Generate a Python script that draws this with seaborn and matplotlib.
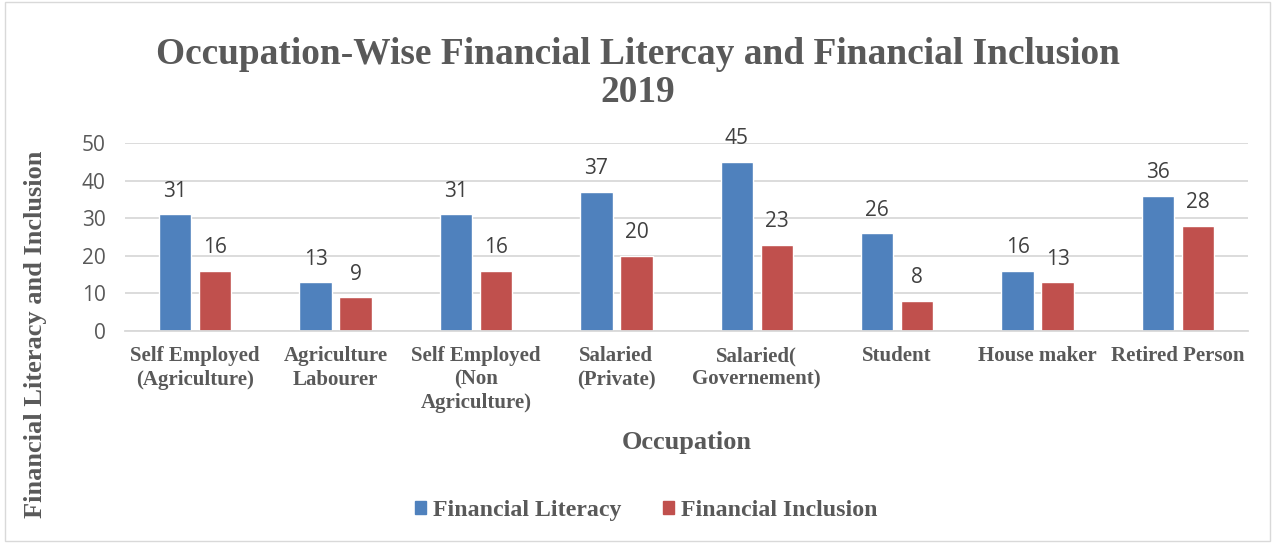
import matplotlib
matplotlib.use("Agg")
import matplotlib.pyplot as plt
import seaborn as sns
import pandas as pd
from matplotlib.patches import Rectangle

categories = ["Self Employed\n(Agriculture)", "Agriculture\nLabourer", "Self Employed\n(Non\nAgriculture)",
              "Salaried\n(Private)", "Salaried(\nGovernement)", "Student", "House maker", "Retired Person"]
literacy = [31, 13, 31, 37, 45, 26, 16, 36]
inclusion = [16, 9, 16, 20, 23, 8, 13, 28]
series = ["Financial Literacy", "Financial Inclusion"]
colors = ["#4F81BD", "#C0504D"]

df = pd.DataFrame({
    "Occupation": categories * 2,
    "Value": literacy + inclusion,
    "Series": [series[0]] * len(categories) + [series[1]] * len(categories),
})

sns.set_theme(style="white")
serif = ["Liberation Serif", "DejaVu Serif"]
sans = ["Open Sans", "DejaVu Sans"]
grey = "#595959"

fig = plt.figure(figsize=(12.75, 5.44), dpi=100)
ax = fig.add_axes([0.098, 0.3915, 0.881, 0.3455])

sns.barplot(data=df, x="Occupation", y="Value", hue="Series", palette=colors,
            width=0.57, gap=0.19, ax=ax, legend=False, saturation=1, errorbar=None)

ax.set_ylim(0, 50)
ax.set_xlim(-0.5, len(categories) - 0.5)
ax.set_yticks(range(0, 51, 10))
ax.yaxis.grid(True, color="#D9D9D9", linewidth=1.3)
ax.set_axisbelow(True)
for s in ["top", "right", "left"]:
    ax.spines[s].set_visible(False)
ax.spines["bottom"].set_color("#D9D9D9")
ax.spines["bottom"].set_linewidth(1.3)
ax.tick_params(axis="both", length=0)
ax.tick_params(axis="y", pad=14)

for lbl in ax.get_yticklabels():
    lbl.set_fontfamily(sans)
    lbl.set_fontsize(15)
    lbl.set_color(grey)
ax.set_xticks(range(len(categories)))
ax.set_xticklabels(categories, fontfamily=serif, fontsize=15, fontweight="bold",
                   color=grey, linespacing=1.22, va="top")
ax.tick_params(axis="x", pad=11)

for container in ax.containers:
    ax.bar_label(container, padding=9, fontsize=15, color="#404040", fontfamily=sans)

ax.set_xlabel("Occupation", fontfamily=serif, fontsize=19, fontweight="bold", color=grey, labelpad=0)
ax.xaxis.set_label_coords(0.5, -0.53)
ax.set_ylabel("Financial Literacy and Inclusion", fontfamily=serif, fontsize=19,
              fontweight="bold", color=grey)
ax.yaxis.set_label_coords(-0.069, -0.02)

fig.text(0.5, 0.865, "Occupation-Wise Financial Litercay and Financial Inclusion\n2019",
         ha="center", va="center", fontfamily=serif, fontsize=26.9, fontweight="bold",
         color=grey, linespacing=1.1)

handles = [Rectangle((0, 0), 1, 1, color=c) for c in colors]
fig.legend(handles, series, loc="center", bbox_to_anchor=(0.507, 0.061), ncol=2,
           frameon=False, prop={"family": serif, "size": 17.2, "weight": "bold"},
           labelcolor=grey, handlelength=0.45, handleheight=0.45, handletextpad=0.3,
           columnspacing=1.75)

fig.patches.append(Rectangle((0.004, 0.006), 0.992, 0.99, transform=fig.transFigure,
                             fill=False, edgecolor="#D9D9D9", linewidth=1))

fig.savefig("out.png", dpi=100, facecolor="white")
